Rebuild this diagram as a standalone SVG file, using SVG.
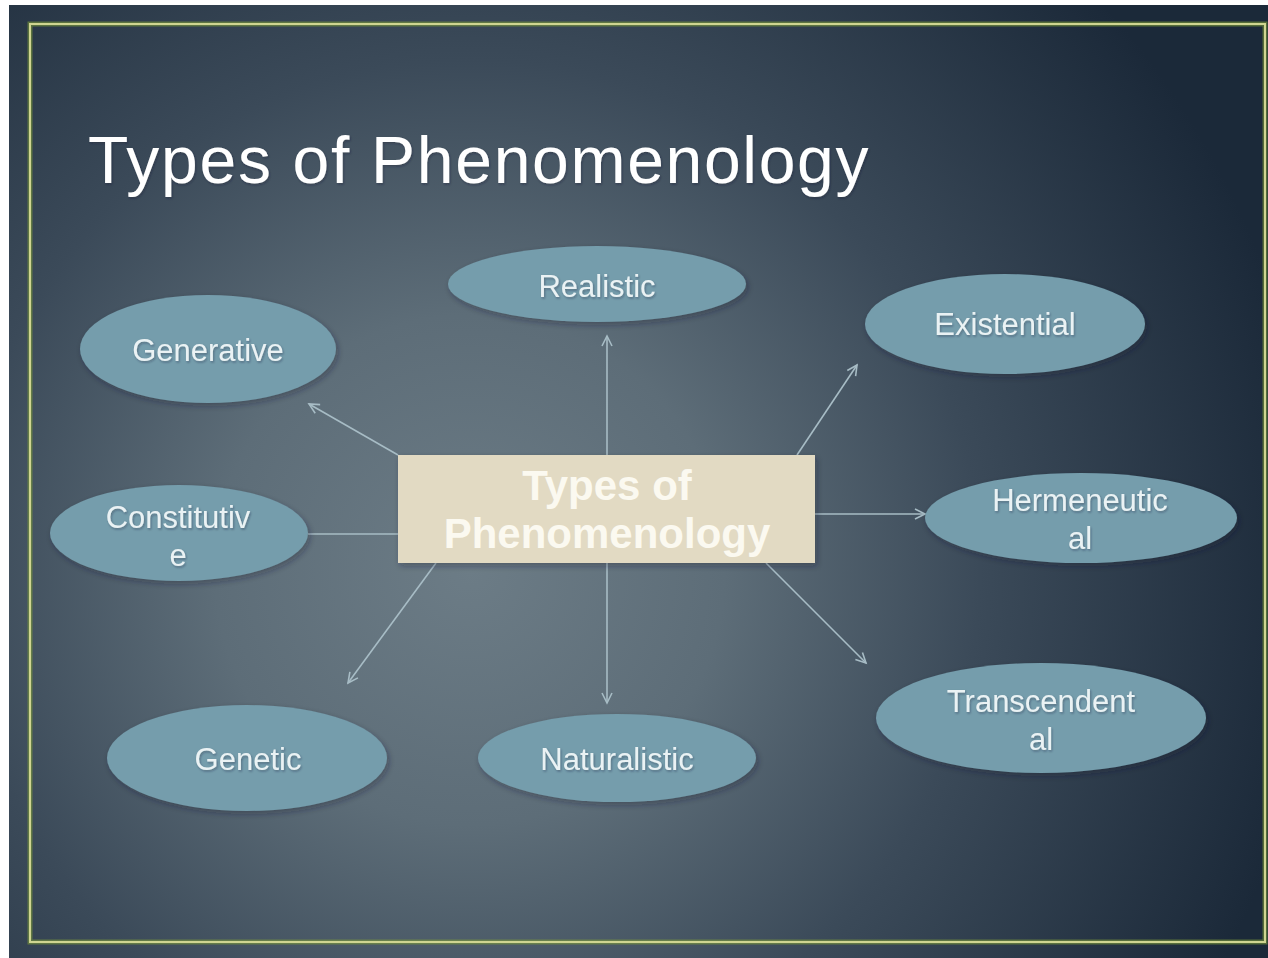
<svg xmlns="http://www.w3.org/2000/svg" width="1268" height="958" viewBox="0 0 1268 958">
  <defs>
    <radialGradient id="bg" gradientUnits="userSpaceOnUse" cx="470" cy="570" r="850">
      <stop offset="0" stop-color="#6c7c86"/>
      <stop offset="0.3" stop-color="#5d6d78"/>
      <stop offset="0.6" stop-color="#3b4a59"/>
      <stop offset="1" stop-color="#1b2939"/>
    </radialGradient>
    <filter id="shadow" x="-10%" y="-10%" width="125%" height="130%">
      <feDropShadow dx="2" dy="3" stdDeviation="3" flood-color="#1a2430" flood-opacity="0.35"/>
    </filter>
    <filter id="tshadow" x="-5%" y="-20%" width="110%" height="140%">
      <feDropShadow dx="1" dy="1.5" stdDeviation="1" flood-color="#1a2430" flood-opacity="0.35"/>
    </filter>
    <marker id="arrow" markerUnits="userSpaceOnUse" markerWidth="14" markerHeight="14" refX="11" refY="6" orient="auto">
      <path d="M1,1 L11,6 L1,11" fill="none" stroke="#a7bcc5" stroke-width="1.6"/>
    </marker>
    <style>
      .node ellipse { fill: #759dac; filter: url(#shadow); }
      .node text { font-family: "Liberation Sans", Arial, sans-serif; font-size: 31px; fill: #eaf2f4; text-anchor: middle; filter: url(#tshadow); }
      .conn line { stroke: #a7bcc5; stroke-width: 1.6; fill: none; }
      .center text { font-family: "Liberation Sans", Arial, sans-serif; font-size: 42px; font-weight: bold; fill: #fbf9f0; text-anchor: middle; }
      .title { font-family: "Liberation Sans", Arial, sans-serif; font-size: 66px; fill: #ffffff; letter-spacing: 1.7px; }
    </style>
  </defs>

  <rect x="0" y="0" width="1268" height="958" fill="#ffffff"/>
  <rect x="9" y="5" width="1259" height="953" fill="url(#bg)"/>
  <rect x="30" y="24" width="1235" height="918" fill="none" stroke="#7d9a3a" stroke-opacity="0.6" stroke-width="5"/>
  <rect x="30" y="24" width="1235" height="918" fill="none" stroke="#cfd591" stroke-width="2"/>

  <text class="title" x="88" y="183" filter="url(#tshadow)">Types of Phenomenology</text>

  <g class="conn" id="connectors">
    <line x1="607" y1="455" x2="607" y2="336" marker-end="url(#arrow)"/>
    <line x1="398" y1="455" x2="309" y2="404" marker-end="url(#arrow)"/>
    <line x1="797" y1="455" x2="857" y2="365" marker-end="url(#arrow)"/>
    <line x1="815" y1="514" x2="925" y2="514" marker-end="url(#arrow)"/>
    <line x1="398" y1="534" x2="308" y2="534"/>
    <line x1="436" y1="563" x2="348" y2="683" marker-end="url(#arrow)"/>
    <line x1="607" y1="563" x2="607" y2="703" marker-end="url(#arrow)"/>
    <line x1="766" y1="563" x2="866" y2="663" marker-end="url(#arrow)"/>
  </g>

  <g class="center" id="center">
    <rect x="398" y="455" width="417" height="108" fill="#e2dac3" filter="url(#shadow)"/>
    <text x="607" y="500">Types of</text>
    <text x="607" y="548">Phenomenology</text>
  </g>

  <g class="node" id="realistic">
    <ellipse cx="597" cy="284" rx="149" ry="38"/>
    <text x="597" y="297">Realistic</text>
  </g>
  <g class="node" id="existential">
    <ellipse cx="1005" cy="324" rx="140" ry="50"/>
    <text x="1005" y="335">Existential</text>
  </g>
  <g class="node" id="generative">
    <ellipse cx="208" cy="349" rx="128" ry="54"/>
    <text x="208" y="361">Generative</text>
  </g>
  <g class="node" id="constitutive">
    <ellipse cx="179" cy="533" rx="129" ry="48"/>
    <text x="178" y="528">Constitutiv</text>
    <text x="178" y="566">e</text>
  </g>
  <g class="node" id="hermeneutical">
    <ellipse cx="1081" cy="518" rx="156" ry="45"/>
    <text x="1080" y="511">Hermeneutic</text>
    <text x="1080" y="549">al</text>
  </g>
  <g class="node" id="transcendental">
    <ellipse cx="1041" cy="718" rx="165" ry="55"/>
    <text x="1041" y="712">Transcendent</text>
    <text x="1041" y="750">al</text>
  </g>
  <g class="node" id="genetic">
    <ellipse cx="247" cy="758" rx="140" ry="53"/>
    <text x="248" y="770">Genetic</text>
  </g>
  <g class="node" id="naturalistic">
    <ellipse cx="617" cy="758" rx="139" ry="44"/>
    <text x="617" y="770">Naturalistic</text>
  </g>
</svg>
